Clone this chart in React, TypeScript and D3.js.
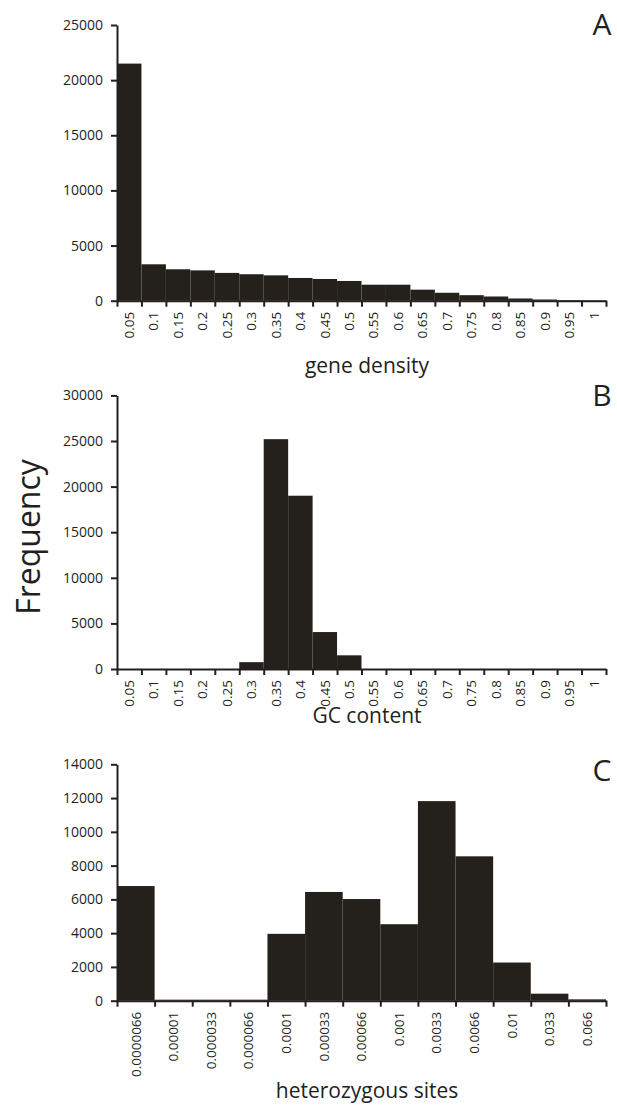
import React, { useEffect, useRef } from "react";
import * as d3 from "d3";

// panel A: gene density
const densityBins = ["0.05", "0.1", "0.15", "0.2", "0.25", "0.3", "0.35", "0.4", "0.45", "0.5",
  "0.55", "0.6", "0.65", "0.7", "0.75", "0.8", "0.85", "0.9", "0.95", "1"];
const densityCounts = [21500, 3300, 2850, 2750, 2520, 2400, 2300, 2060, 1970, 1790,
  1450, 1450, 1000, 720, 500, 380, 200, 110, 50, 30];

// panel B: GC content
const gcBins = densityBins;
const gcCounts = [0, 0, 0, 0, 0, 750, 25200, 19000, 4050, 1500,
  0, 0, 0, 0, 0, 0, 0, 0, 0, 0];

// panel C: heterozygous sites
const hetBins = ["0.0000066", "0.00001", "0.000033", "0.000066", "0.0001", "0.00033", "0.00066",
  "0.001", "0.0033", "0.0066", "0.01", "0.033", "0.066"];
const hetCounts = [6790, 60, 60, 60, 3960, 6440, 6020, 4530, 11820, 8550, 2260, 415, 80];

const panels = [
  { id: "A", bins: densityBins, counts: densityCounts, yMax: 25000, step: 5000, top: 25, base: 300.7,
    title: "gene density", titleY: 373, letterY: 35 },
  { id: "B", bins: gcBins, counts: gcCounts, yMax: 30000, step: 5000, top: 395.4, base: 669,
    title: "GC content", titleY: 723, letterY: 406 },
  { id: "C", bins: hetBins, counts: hetCounts, yMax: 14000, step: 2000, top: 764.3, base: 1000.7,
    title: "heterozygous sites", titleY: 1098, letterY: 781 },
];

const ink = "#231f20";
const barFill = "#24201b";
const font = "'Open Sans', sans-serif";

export default function App() {
  const ref = useRef<SVGSVGElement>(null);

  useEffect(() => {
    const svg = d3.select(ref.current);
    svg.selectAll("*").remove();
    const left = 117;
    const right = 606;

    panels.forEach((p) => {
      const g = svg.append("g");
      const x = d3.scaleBand().domain(p.bins).range([left, right]).padding(0);
      const xEdge = d3.scaleLinear().domain([0, p.bins.length]).range([left, right]);
      const y = d3.scaleLinear().domain([0, p.yMax]).range([p.base, p.top]);

      g.selectAll("rect")
        .data(p.counts)
        .enter()
        .append("rect")
        .attr("x", (d, i) => x(p.bins[i]) as number)
        .attr("y", (d) => y(d))
        .attr("width", x.bandwidth())
        .attr("height", (d) => p.base - y(d))
        .attr("fill", barFill);

      const yAxis = g
        .append("g")
        .attr("transform", `translate(${left},0)`)
        .call(
          d3.axisLeft(y)
            .tickValues(d3.range(0, p.yMax + 1, p.step))
            .tickFormat(d3.format("d"))
            .tickSize(6)
            .tickSizeOuter(0)
            .tickPadding(8)
        );
      yAxis.select(".domain").attr("stroke", ink).attr("stroke-width", 2);
      yAxis.selectAll(".tick line").attr("stroke", ink).attr("stroke-width", 2);
      yAxis.selectAll("text")
        .attr("font-family", font)
        .attr("font-size", 14)
        .attr("fill", ink);

      const xAxis = g
        .append("g")
        .attr("transform", `translate(0,${p.base})`)
        .call(
          d3.axisBottom(xEdge)
            .tickValues(d3.range(0, p.bins.length + 1))
            .tickFormat(() => "")
            .tickSize(6)
            .tickSizeOuter(0)
        );
      xAxis.select(".domain").attr("stroke", ink).attr("stroke-width", 2);
      xAxis.selectAll(".tick line").attr("stroke", ink).attr("stroke-width", 2);

      g.selectAll(".xlab")
        .data(p.bins)
        .enter()
        .append("text")
        .attr("class", "xlab")
        .attr("transform", (d) => `translate(${(x(d) as number) + x.bandwidth() / 2},${p.base + 11}) rotate(-90)`)
        .attr("dy", "0.35em")
        .attr("text-anchor", "end")
        .attr("font-family", font)
        .attr("font-size", 13.5)
        .attr("fill", ink)
        .text((d) => d);

      g.append("text")
        .attr("x", 367)
        .attr("y", p.titleY)
        .attr("text-anchor", "middle")
        .attr("font-family", font)
        .attr("font-size", 21)
        .attr("fill", ink)
        .text(p.title);

      g.append("text")
        .attr("x", 602)
        .attr("y", p.letterY)
        .attr("text-anchor", "middle")
        .attr("font-family", font)
        .attr("font-size", 30)
        .attr("fill", ink)
        .text(p.id);
    });

    svg.append("text")
      .attr("transform", "translate(40,537) rotate(-90)")
      .attr("text-anchor", "middle")
      .attr("font-family", font)
      .attr("font-size", 32)
      .attr("fill", ink)
      .text("Frequency");
  }, []);

  return (
    <div style={{ position: "absolute", left: 0, top: 0 }}>
      <svg ref={ref} width={617} height={1107} style={{ display: "block", background: "#fff" }} />
    </div>
  );
}
